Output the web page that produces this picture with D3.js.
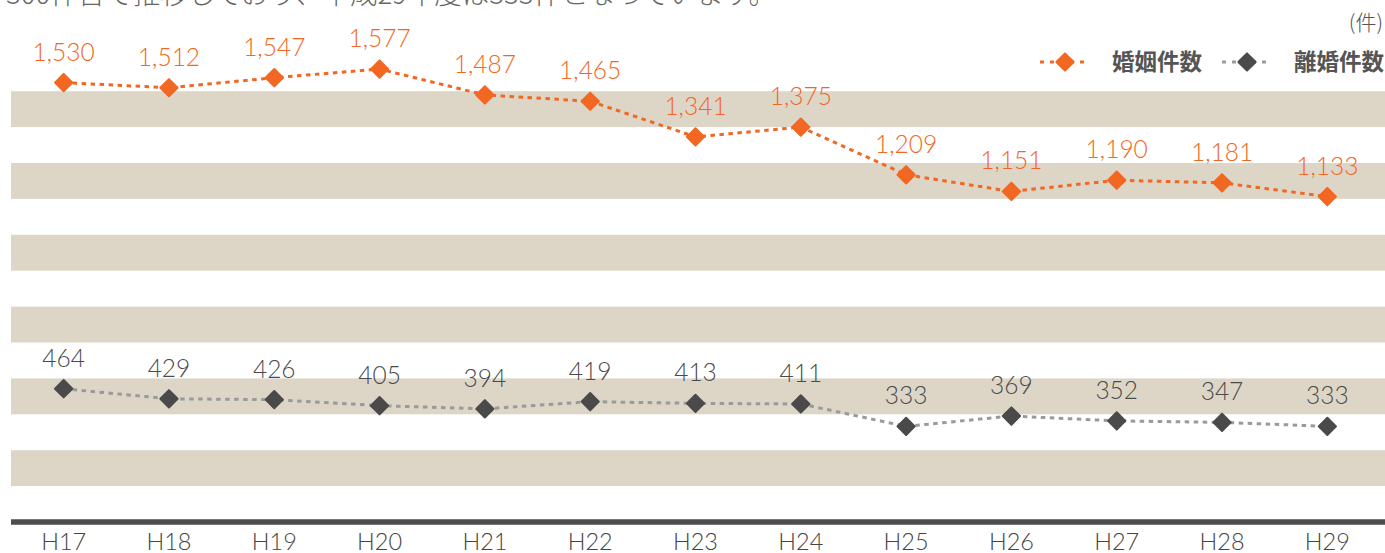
<!DOCTYPE html>
<html>
	<head>
		<meta charset="UTF-8">
		<title>婚姻件数・離婚件数</title>
		<style type="text/css">
		body {
			margin: 0;
			background: #fff;
			overflow: hidden;
		}
		svg {
			display: block;
		}
		.num {
			font-family: Lato, "Noto Sans CJK JP", sans-serif;
			font-weight: 300;
		}
		.jp {
			font-family: "Noto Sans CJK JP", sans-serif;
		}
		</style>
	</head>
	<body>
		<script src="https://d3js.org/d3.v7.min.js"></script>
		<script type="text/javascript">

			// data
			var years = ["H17", "H18", "H19", "H20", "H21", "H22", "H23", "H24", "H25", "H26", "H27", "H28", "H29"];
			var marriages = [1530, 1512, 1547, 1577, 1487, 1465, 1341, 1375, 1209, 1151, 1190, 1181, 1133];
			var divorces = [464, 429, 426, 405, 394, 419, 413, 411, 333, 369, 352, 347, 333];
			var bandStarts = [125, 375, 625, 875, 1125, 1375];   // shaded stripes, each 125 wide
			var seriesNames = ["婚姻件数", "離婚件数"];

			var width = 1385, height = 553;
			var orange = "#f26722", dark = "#4a4a4a";

			var svg = d3.select("body")
				.append("svg")
					.attr("width", width)
					.attr("height", height);

			// scales
			var x = d3.scaleBand()
				.domain(years)
				.range([11, 1380]);

			var y = d3.scaleLinear()
				.domain([0, 1625])
				.range([522, 55.3]);

			// stripes
			svg.append("g")
				.selectAll("rect")
				.data(bandStarts)
				.join("rect")
					.attr("x", 11)
					.attr("width", width - 11)
					.attr("y", function(d) { return y(d + 125); })
					.attr("height", function(d) { return y(d) - y(d + 125); })
					.attr("fill", "#ddd6c7");

			// bottom axis
			var xAxis = d3.axisBottom(x).tickSize(0).tickPadding(0);
			var gx = svg.append("g")
				.attr("transform", "translate(0," + y(0) + ")")
				.call(xAxis);
			gx.select(".domain").remove();
			gx.append("line")
				.attr("x1", 11)
				.attr("x2", width)
				.attr("y1", 0)
				.attr("y2", 0)
				.attr("stroke", "#4d4d4d")
				.attr("stroke-width", 5.5);
			gx.selectAll(".tick text")
				.attr("class", "num")
				.attr("dy", null)
				.attr("y", 28)
				.attr("fill", "#444")
				.style("font-size", "23.5px");

			// intro sentence, cut off at the top
			svg.append("text")
				.attr("class", "jp")
				.attr("x", 6)
				.attr("y", 4)
				.attr("fill", "#666")
				.style("font-size", "27.5px")
				.style("font-weight", 300)
				.text("300件台で推移しており、平成29年度は333件となっています。");

			// unit
			svg.append("text")
				.attr("class", "jp")
				.attr("x", 1383)
				.attr("y", 30)
				.attr("text-anchor", "end")
				.attr("fill", "#555")
				.style("font-size", "21px")
				.style("font-weight", 300)
				.text("(件)");

			var diamond = d3.symbol().type(d3.symbolSquare).size(150);

			function drawSeries(values, lineColor, markColor, textColor, dash) {
				var line = d3.line()
					.x(function(d, i) { return x(years[i]) + x.bandwidth() / 2; })
					.y(function(d) { return y(d); });

				var g = svg.append("g");

				g.append("path")
					.attr("d", line(values))
					.attr("fill", "none")
					.attr("stroke", lineColor)
					.attr("stroke-width", 3)
					.attr("stroke-dasharray", "4.5,4.5");

				g.selectAll("path.mark")
					.data(values)
					.join("path")
						.attr("class", "mark")
						.attr("d", diamond)
						.attr("transform", function(d, i) {
							return "translate(" + (x(years[i]) + x.bandwidth() / 2) + "," + y(d) + ") rotate(45)";
						})
						.attr("fill", markColor)
						.attr("stroke", markColor)
						.attr("stroke-width", 2)
						.attr("stroke-linejoin", "round");

				g.selectAll("text")
					.data(values)
					.join("text")
						.attr("class", "num")
						.attr("x", function(d, i) { return x(years[i]) + x.bandwidth() / 2; })
						.attr("y", function(d) { return y(d) - 22; })
						.attr("text-anchor", "middle")
						.attr("fill", textColor)
						.style("font-size", "24.5px")
						.text(d3.format(","));
			}

			drawSeries(marriages, orange, orange, orange);
			drawSeries(divorces, "#9a9a9a", dark, dark);

			// legend
			var legend = [
				{name: seriesNames[0], line: orange, mark: orange, x: 1040},
				{name: seriesNames[1], line: "#9a9a9a", mark: dark, x: 1222}
			];
			var lg = svg.append("g").selectAll("g")
				.data(legend)
				.join("g")
					.attr("transform", function(d) { return "translate(" + d.x + ",62)"; });
			lg.append("line")
				.attr("x1", 0)
				.attr("x2", 48)
				.attr("stroke", function(d) { return d.line; })
				.attr("stroke-width", 3)
				.attr("stroke-dasharray", "4,6");
			lg.append("path")
				.attr("d", diamond)
				.attr("transform", "translate(25,0) rotate(45)")
				.attr("fill", function(d) { return d.mark; })
				.attr("stroke", function(d) { return d.mark; })
				.attr("stroke-width", 2)
				.attr("stroke-linejoin", "round");
			lg.append("text")
				.attr("class", "jp")
				.attr("x", 72)
				.attr("y", 8)
				.attr("fill", "#555")
				.style("font-size", "22.5px")
				.style("font-weight", 700)
				.text(function(d) { return d.name; });
		</script>
	</body>
</html>
